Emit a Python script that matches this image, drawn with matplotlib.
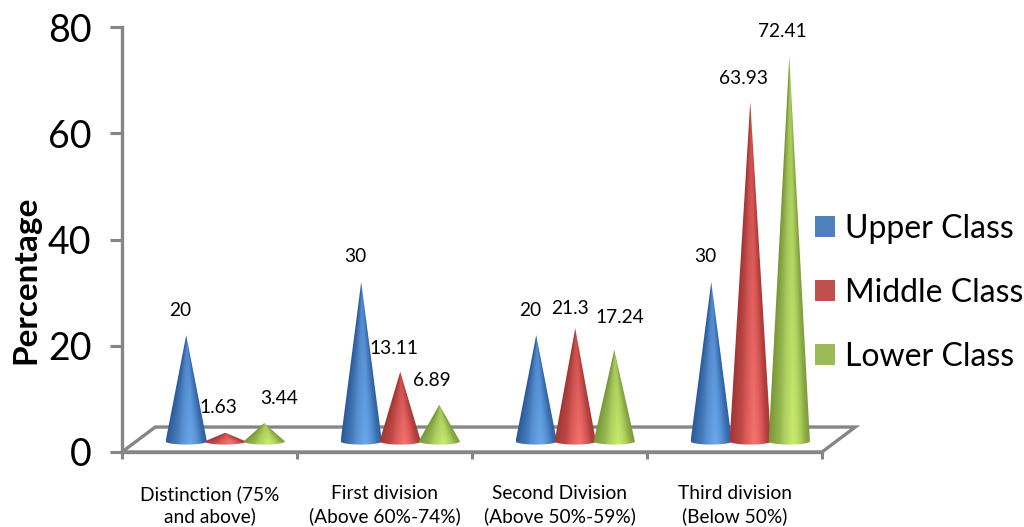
import numpy as np
import matplotlib
matplotlib.use('Agg')
import matplotlib.pyplot as plt
from matplotlib.patches import Polygon, Patch

categories = ['Distinction (75%\nand above)', 'First division\n(Above 60%-74%)',
              'Second Division\n(Above 50%-59%)', 'Third division\n(Below 50%)']
series_names = ['Upper Class', 'Middle Class', 'Lower Class']
upper_class = [20, 30, 20, 30]
middle_class = [1.63, 13.11, 21.3, 63.93]
lower_class = [3.44, 6.89, 17.24, 72.41]
value_labels = [['20', '30', '20', '30'],
                ['1.63', '13.11', '21.3', '63.93'],
                ['3.44', '6.89', '17.24', '72.41']]

plt.rcParams['font.family'] = ['Lato', 'DejaVu Sans']

GREY = '#868686'
# dark edge, body, highlight for each series
shades = [('#2c5c9a', '#4f86c8', '#6ba6ea'),
          ('#a33634', '#c9504e', '#f57270'),
          ('#7a9838', '#a2c45a', '#c8ea6c')]
legend_colors = ['#4F81BD', '#C0504D', '#9BBB59']

W, H = 1024, 527
fig = plt.figure(figsize=(W / 100, H / 100), dpi=100)
ax = fig.add_axes([122 / W, 1 - 452 / H, 700 / W, 425 / H])

depth_x, depth_y = 0.19, 4.7   # floor depth
base_y = 2.0                   # cones stand this far up the floor
shift = 0.09                   # group shift towards the back of the floor
gap = 0.223                    # between cones
half_w = 0.118
ell = 0.6


def draw_cone(x0, value, colors):
    ts = np.linspace(np.pi, 2 * np.pi, 40)
    outline = [(x0 + half_w * np.cos(t), base_y + ell * np.sin(t)) for t in ts]
    outline.append((x0, base_y + value))

    xs = np.linspace(x0 - half_w, x0 + half_w, 80)
    ys = np.linspace(base_y - ell, base_y + value, 300)
    gx, gy = np.meshgrid(xs, ys)
    frac = np.clip((gy - base_y) / value, -0.2, 0.995)
    u = np.clip((gx - x0) / (half_w * (1 - frac)), -1, 1)
    rgb_dark, rgb_mid, rgb_hi = [np.array(matplotlib.colors.to_rgb(c)) for c in colors]
    img = np.zeros(gx.shape + (3,))
    near_base = np.clip(1 - frac * 1.3, 0, 1)[..., None]
    for k in range(3):
        img[..., k] = np.interp(u, [-1, -0.3, 0.3, 1],
                                [rgb_dark[k], rgb_mid[k], rgb_mid[k] * 1.05, rgb_dark[k]])
    glow = np.clip(1 - np.abs(u - 0.15) / 0.6, 0, 1)[..., None] * near_base
    img = img * (1 - glow) + rgb_hi * glow
    im = ax.imshow(np.clip(img, 0, 1), origin='lower', aspect='auto', zorder=3,
                   extent=(xs[0], xs[-1], ys[0], ys[-1]), interpolation='bilinear')
    im.set_clip_path(Polygon(outline, closed=True, transform=ax.transData))


# floor
floor = Polygon([(0, 0), (4, 0), (4 + depth_x, depth_y), (depth_x, depth_y)], closed=True,
                facecolor='white', edgecolor=GREY, linewidth=2.4, clip_on=False, zorder=1)
ax.add_patch(floor)

# label nudges in pixels (group, series): dx, dy above the tip
default_nudge = (-6, 25)
nudges = {(0, 1): (-7, 25), (0, 2): (15, 25), (1, 1): (-6, 23), (1, 2): (-7, 24),
          (2, 1): (-5, 20), (2, 2): (6, 32), (3, 1): (-7, 23), (3, 2): (-7, 25)}

all_values = [upper_class, middle_class, lower_class]
for s, vals in enumerate(all_values):
    for g, v in enumerate(vals):
        cx = g + 0.5 + shift + (s - 1) * gap
        draw_cone(cx, v, shades[s])
        dx, dy = nudges.get((g, s), default_nudge)
        ax.annotate(value_labels[s][g], (cx, base_y + v), xytext=(dx * 0.72, dy * 0.72),
                    textcoords='offset points', ha='center', va='center',
                    fontsize=13.8, color='black', zorder=5, annotation_clip=False)

ax.set_xlim(0, 4)
ax.set_ylim(0, 80)
ax.set_yticks([0, 20, 40, 60, 80])
ax.set_xticks([0, 1, 2, 3, 4])
ax.set_xticks([0.5, 1.5, 2.5, 3.5], labels=categories, minor=True)
ax.set_xticklabels([])
for lab in ax.get_xticklabels(minor=True):
    lab.set_linespacing(1.3)
ax.tick_params(axis='x', which='minor', length=0, labelsize=13.8, pad=24)
ax.tick_params(axis='x', which='major', length=5, width=2.2, color=GREY)
ax.tick_params(axis='y', length=9, width=2.2, color=GREY, labelsize=27, pad=13)

for side in ['top', 'right']:
    ax.spines[side].set_visible(False)
for side in ['left', 'bottom']:
    ax.spines[side].set_color(GREY)
    ax.spines[side].set_linewidth(2.4)
ax.patch.set_alpha(0)

ax.set_ylabel('Percentage', fontsize=24, fontweight='bold')
ax.yaxis.set_label_coords((40 - 122) / 700, (452 - 280) / 425)

handles = [Patch(facecolor=c, label=n) for c, n in zip(legend_colors, series_names)]
fig.legend(handles=handles, loc='center left', bbox_to_anchor=(815 / W, 1 - 293 / H),
           frameon=False, fontsize=23, handlelength=0.63, handleheight=0.63,
           handletextpad=0.31, labelspacing=1.07, borderpad=0, borderaxespad=0)

fig.savefig('out.png', dpi=100)
